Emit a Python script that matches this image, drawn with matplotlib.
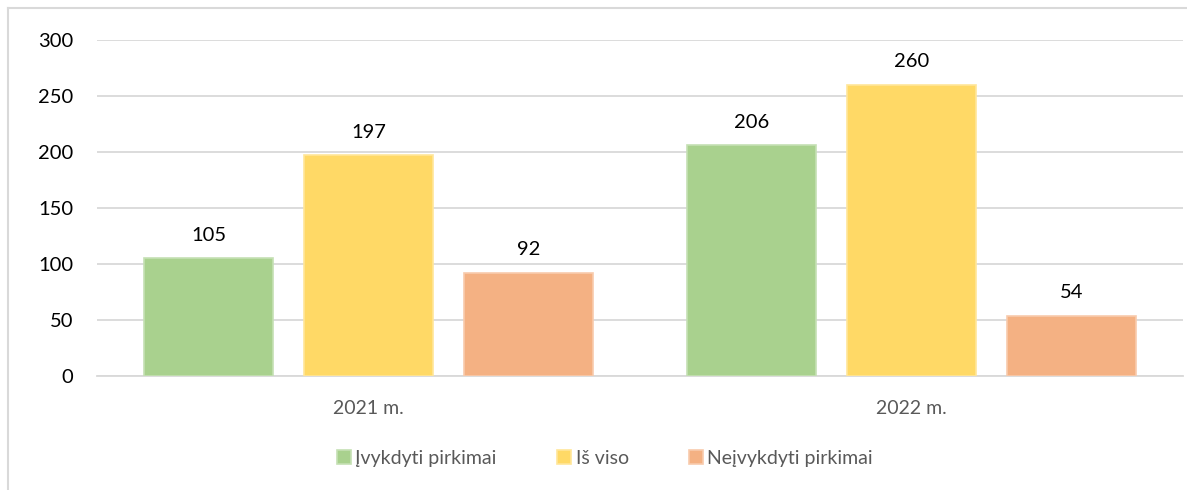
import matplotlib
matplotlib.use("Agg")
import matplotlib.pyplot as plt
from matplotlib.lines import Line2D
import numpy as np

plt.rcParams['font.family'] = ['Lato', 'DejaVu Sans']

categories = ["2021 m.", "2022 m."]
series_names = ["Įvykdyti pirkimai", "Iš viso", "Neįvykdyti pirkimai"]
ivykdyti = [105, 206]
is_viso = [197, 260]
neivykdyti = [92, 54]
colors = ["#a9d18e", "#ffd966", "#f4b183"]
edge_colors = ["#c5e0b4", "#ffe699", "#f8cbad"]
yticks = [0, 50, 100, 150, 200, 250, 300]

fig = plt.figure(figsize=(11.87, 4.90), dpi=100)
# chart border (only left and top visible in the crop)
fig.lines.append(Line2D([7.5/1187, 7.5/1187], [0, 1 - 8.5/490], transform=fig.transFigure,
                        color="#d9d9d9", linewidth=1.5))
fig.lines.append(Line2D([7.5/1187, 1], [1 - 8.5/490, 1 - 8.5/490], transform=fig.transFigure,
                        color="#d9d9d9", linewidth=1.5))
ax = fig.add_axes([97/1187, 1 - 376/490, 1086/1187, 336/490])

x = np.arange(len(categories))
step = 0.2947
width = 0.2376
for i, (vals, name) in enumerate(zip([ivykdyti, is_viso, neivykdyti], series_names)):
    pos = x + (i - 1) * step
    ax.bar(pos, vals, width, color=colors[i], edgecolor=edge_colors[i], linewidth=1.2,
           label=name, zorder=3)
    for xb, v in zip(pos, vals):
        ax.text(xb, v + 13, str(v), ha="center", va="bottom", fontsize=14.5, color="#000000")

ax.set_xlim(-0.5, 1.5)
ax.set_ylim(0, 300)
ax.set_yticks(yticks)
ax.set_yticklabels([str(t) for t in yticks], fontsize=14.5, color="#000000")
ax.set_xticks(x)
ax.set_xticklabels(categories, fontsize=14, color="#595959")
ax.tick_params(axis="both", length=0)
ax.tick_params(axis="y", pad=17)
ax.tick_params(axis="x", pad=17)
ax.grid(axis="y", color="#d9d9d9", linewidth=1.3, zorder=0)
for s in ["top", "right", "left"]:
    ax.spines[s].set_visible(False)
ax.spines["bottom"].set_color("#d9d9d9")
ax.spines["bottom"].set_linewidth(1.3)

leg = fig.legend(loc="center", bbox_to_anchor=(605/1187, 1 - 458/490), ncol=3, frameon=False,
                 fontsize=14, handlelength=0.7, handleheight=0.7, handletextpad=0.25,
                 columnspacing=3.1)
for t in leg.get_texts():
    t.set_color("#595959")

fig.savefig("out.png", dpi=100)
